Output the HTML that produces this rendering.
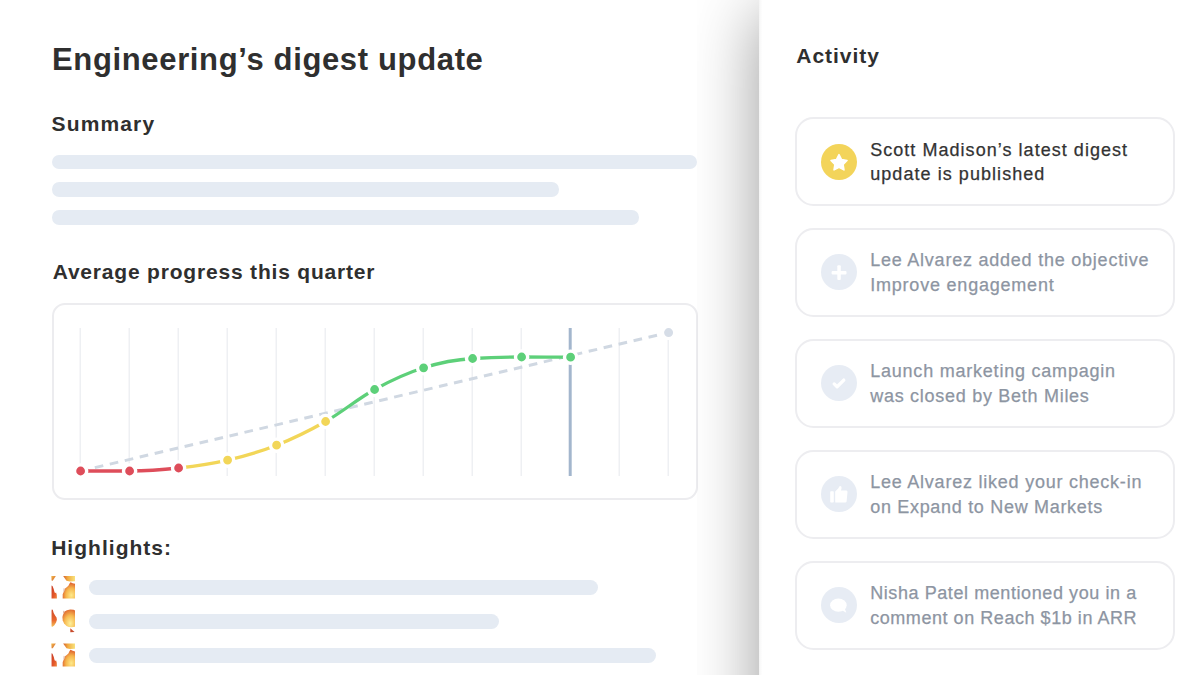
<!DOCTYPE html>
<html><head><meta charset="utf-8">
<style>
*{margin:0;padding:0;box-sizing:border-box}
html,body{width:1200px;height:675px;overflow:hidden;background:#fff}
body{position:relative;font-family:"Liberation Sans",sans-serif;color:#2f2f2f}
.a{position:absolute;white-space:nowrap;line-height:1}
.h1{font-size:31px;font-weight:bold;letter-spacing:0.5px}
.h2{font-size:21px;font-weight:bold;letter-spacing:0.75px}
.bar{position:absolute;height:14.5px;border-radius:7.25px;background:#e5ebf3}
.hbar{position:absolute;height:15px;border-radius:7.5px;background:#e5ebf3}
#shadow{position:absolute;left:697px;top:0;width:62px;height:675px;
 background:linear-gradient(to right,#fcfcfc 0%,#f4f4f4 25%,#e9e9e9 50%,#dcdcdc 75%,#cccccc 100%)}
#panel{position:absolute;left:759px;top:0;width:441px;height:675px;background:linear-gradient(to right,#f3f3f3 0,#fafafa 1.5px,#fff 3.5px)}
.card{position:absolute;left:35.7px;width:380.3px;height:89.4px;border:2px solid #ededf0;border-radius:18.5px;background:#fff}
.ic{position:absolute;left:24.5px;top:24.6px;width:36px;height:36px;border-radius:50%;background:#e7ecf4}
.ic svg{position:absolute;left:0;top:0}
.ct{position:absolute;left:73.5px;top:18.6px;font-size:18px;line-height:24.5px;letter-spacing:0.95px;color:#8d95a2;white-space:nowrap;-webkit-text-stroke:0.25px currentColor}
.card.first .ct{color:#333}
#chartcard{position:absolute;left:51.6px;top:302.9px;width:646px;height:197px;border:2px solid #ececef;border-radius:13px}
</style></head><body>

<div class="a h1" style="left:52px;top:43.9px;letter-spacing:0.65px">Engineering’s digest update</div>
<div class="a h2" style="left:51.5px;top:112.7px;letter-spacing:1.15px">Summary</div>
<div class="bar" style="left:52px;top:154.6px;width:645px"></div>
<div class="bar" style="left:52px;top:182.4px;width:507px"></div>
<div class="bar" style="left:52px;top:210.1px;width:587px"></div>

<div class="a h2" style="left:52.7px;top:261px;letter-spacing:0.81px">Average progress this quarter</div>
<div id="chartcard"></div>

<div class="a h2" style="left:51.2px;top:537.3px;letter-spacing:1.02px">Highlights:</div>
<div class="hbar" style="left:89px;top:580.3px;width:509px"></div>
<div class="hbar" style="left:89px;top:614.2px;width:410px"></div>
<div class="hbar" style="left:89px;top:648px;width:567px"></div>

<svg style="position:absolute;left:48px;top:572px" width="32" height="100" viewBox="0 0 675 2109">
<defs>
<linearGradient id="ft" x1="0" y1="0" x2="1" y2="0"><stop offset="0" stop-color="#d4602c"/><stop offset="0.4" stop-color="#f2ad42"/><stop offset="1" stop-color="#f8e27e"/></linearGradient>
<linearGradient id="ftl" x1="0" y1="0" x2="1" y2="1"><stop offset="0" stop-color="#f4bb4c"/><stop offset="1" stop-color="#cf5a2a"/></linearGradient>
<linearGradient id="fr" x1="0" y1="0" x2="1" y2="1"><stop offset="0" stop-color="#c63c26"/><stop offset="0.6" stop-color="#e4572b"/><stop offset="1" stop-color="#f08a3c"/></linearGradient>
<radialGradient id="fy" cx="0.7" cy="0.8" r="0.8"><stop offset="0" stop-color="#fde98a"/><stop offset="0.55" stop-color="#f6b54c"/><stop offset="1" stop-color="#dc5a2c"/></radialGradient>
<radialGradient id="fy2" cx="0.62" cy="0.78" r="0.8"><stop offset="0" stop-color="#fdf09a"/><stop offset="0.55" stop-color="#f7bb52"/><stop offset="1" stop-color="#e0692f"/></radialGradient>
<linearGradient id="fl2" x1="0" y1="0" x2="0" y2="1"><stop offset="0" stop-color="#cf4a28"/><stop offset="0.6" stop-color="#e8652d"/><stop offset="1" stop-color="#f4c25a"/></linearGradient>
<g id="fA">
<path d="M70 85L165 85L100 185L75 180Z" fill="url(#ftl)"/>
<path d="M320 85L570 85L570 195L460 200L390 185Z" fill="url(#ft)"/>
<path d="M75 285L95 295L120 360L140 430L155 445L170 430L185 480L188 560L75 560Z" fill="url(#fr)"/>
<path d="M310 560L310 470L325 430L345 400L360 350L395 320L430 290L455 240L475 215L520 235L570 250L570 560Z" fill="url(#fy)"/>
<path d="M330 340L352 346L345 420L325 414Z" fill="#c9876a" opacity="0.6"/>
</g>
</defs>
<use href="#fA"/>
<g transform="translate(0 717)">
<path d="M80 75L100 80L120 150L150 200L180 240L188 290L170 350L130 410L95 440L75 430L75 100Z" fill="url(#fl2)"/>
<path d="M335 150L360 110L400 90L470 75L540 78L570 95L570 440L500 450L440 445L390 420L340 370L310 300L305 230L315 190Z" fill="url(#fy2)"/>
<path d="M320 100L352 106L342 160L318 150Z" fill="#c9876a" opacity="0.6"/>
<path d="M470 470L560 550L470 555Z" fill="#c84a2a"/>
</g>
<g transform="translate(0 1426)"><use href="#fA" transform="translate(0 -4) scale(1 1.02)"/></g>
</svg>
<svg id="chart" style="position:absolute;left:0;top:0" width="760" height="675" viewBox="0 0 760 675">
<line x1="80.20" y1="328" x2="80.20" y2="476" stroke="#eaecf0" stroke-width="1.2"/>
<line x1="129.20" y1="328" x2="129.20" y2="476" stroke="#eaecf0" stroke-width="1.2"/>
<line x1="178.20" y1="328" x2="178.20" y2="476" stroke="#eaecf0" stroke-width="1.2"/>
<line x1="227.20" y1="328" x2="227.20" y2="476" stroke="#eaecf0" stroke-width="1.2"/>
<line x1="276.20" y1="328" x2="276.20" y2="476" stroke="#eaecf0" stroke-width="1.2"/>
<line x1="325.20" y1="328" x2="325.20" y2="476" stroke="#eaecf0" stroke-width="1.2"/>
<line x1="374.20" y1="328" x2="374.20" y2="476" stroke="#eaecf0" stroke-width="1.2"/>
<line x1="423.20" y1="328" x2="423.20" y2="476" stroke="#eaecf0" stroke-width="1.2"/>
<line x1="472.20" y1="328" x2="472.20" y2="476" stroke="#eaecf0" stroke-width="1.2"/>
<line x1="521.20" y1="328" x2="521.20" y2="476" stroke="#eaecf0" stroke-width="1.2"/>
<line x1="619.20" y1="328" x2="619.20" y2="476" stroke="#eaecf0" stroke-width="1.2"/>
<line x1="668.20" y1="328" x2="668.20" y2="476" stroke="#eaecf0" stroke-width="1.2"/>
<line x1="570.20" y1="328" x2="570.20" y2="476" stroke="#a3b6cd" stroke-width="3"/>
<line x1="80.60" y1="471.0" x2="668.20" y2="332.6" stroke="#d0d8e2" stroke-width="3" stroke-dasharray="8.7 6.675" stroke-dashoffset="0.77"/>
<path d="M80.60 471.00C96.93 471.00 113.27 471.00 129.60 471.00" fill="none" stroke="#de4d5a" stroke-width="3.3"/>
<path d="M129.60 471.00C145.93 471.00 162.27 469.82 178.60 468.00" fill="none" stroke="#de4d5a" stroke-width="3.3"/>
<path d="M178.60 468.00C194.93 466.18 211.27 463.90 227.60 460.10" fill="none" stroke="#f2d658" stroke-width="3.3"/>
<path d="M227.60 460.10C243.93 456.30 260.27 451.63 276.60 445.20" fill="none" stroke="#f2d658" stroke-width="3.3"/>
<path d="M276.60 445.20C292.93 438.77 309.27 430.78 325.60 421.50" fill="none" stroke="#f2d658" stroke-width="3.3"/>
<path d="M325.60 421.50C341.93 412.22 358.27 398.45 374.60 389.50" fill="none" stroke="#5dd079" stroke-width="3.3"/>
<path d="M374.60 389.50C390.93 380.55 407.27 372.97 423.60 367.80" fill="none" stroke="#5dd079" stroke-width="3.3"/>
<path d="M423.60 367.80C439.93 362.63 456.27 359.50 472.60 358.50" fill="none" stroke="#5dd079" stroke-width="3.3"/>
<path d="M472.60 358.50C488.93 357.50 505.27 357.00 521.60 357.00" fill="none" stroke="#5dd079" stroke-width="3.3"/>
<path d="M521.60 357.00C537.93 357.00 554.27 357.10 570.60 357.20" fill="none" stroke="#5dd079" stroke-width="3.3"/>
<circle cx="668.60" cy="332.6" r="6" fill="#d6dde7" stroke="#fff" stroke-width="3"/>
<circle cx="80.60" cy="471.0" r="6.1" fill="#de4d5a" stroke="#fff" stroke-width="3.4"/>
<circle cx="129.60" cy="471.0" r="6.1" fill="#de4d5a" stroke="#fff" stroke-width="3.4"/>
<circle cx="178.60" cy="468.0" r="6.1" fill="#de4d5a" stroke="#fff" stroke-width="3.4"/>
<circle cx="227.60" cy="460.1" r="6.1" fill="#f2d658" stroke="#fff" stroke-width="3.4"/>
<circle cx="276.60" cy="445.2" r="6.1" fill="#f2d658" stroke="#fff" stroke-width="3.4"/>
<circle cx="325.60" cy="421.5" r="6.1" fill="#f2d658" stroke="#fff" stroke-width="3.4"/>
<circle cx="374.60" cy="389.5" r="6.1" fill="#5dd079" stroke="#fff" stroke-width="3.4"/>
<circle cx="423.60" cy="367.8" r="6.1" fill="#5dd079" stroke="#fff" stroke-width="3.4"/>
<circle cx="472.60" cy="358.5" r="6.1" fill="#5dd079" stroke="#fff" stroke-width="3.4"/>
<circle cx="521.60" cy="357.0" r="6.1" fill="#5dd079" stroke="#fff" stroke-width="3.4"/>
<circle cx="570.60" cy="357.2" r="6.1" fill="#5dd079" stroke="#fff" stroke-width="3.4"/>
</svg>

<div id="shclip" style="position:absolute;left:697px;top:0;width:62px;height:675px;overflow:hidden"><div style="position:absolute;left:62px;top:13px;width:200px;height:1000px;background:#fff;box-shadow:0 0 68px rgba(0,0,0,0.4)"></div></div>
<div id="panel">
  <div class="a h2" style="left:37.3px;top:44.5px;letter-spacing:0.95px">Activity</div>

  <div class="card first" style="top:117px">
    <div class="ic" style="background:#f3d45a"><svg width="36" height="36" viewBox="0 0 36 36"><polygon points="18.00,10.70 20.53,15.62 25.99,16.50 22.09,20.43 22.94,25.90 18.00,23.40 13.06,25.90 13.91,20.43 10.01,16.50 15.47,15.62" fill="#fff" stroke="#fff" stroke-width="1.6" stroke-linejoin="round"/></svg></div>
    <div class="ct"><div style="letter-spacing:1.04px">Scott Madison’s latest digest</div><div style="letter-spacing:1.06px">update is published</div></div>
  </div>
  <div class="card " style="top:227.9px">
    <div class="ic"><svg width="36" height="36" viewBox="0 0 36 36"><rect x="10.6" y="16.9" width="14.9" height="3.5" rx="1" fill="#fff"/><rect x="16.3" y="11.2" width="3.5" height="14.9" rx="1" fill="#fff"/></svg></div>
    <div class="ct"><div style="letter-spacing:0.77px">Lee Alvarez added the objective</div><div style="letter-spacing:0.79px">Improve engagement</div></div>
  </div>
  <div class="card " style="top:338.8px">
    <div class="ic"><svg width="36" height="36" viewBox="0 0 36 36"><path d="M13.2 18.9L16.1 21.7L22.8 15.1" fill="none" stroke="#fff" stroke-width="3.3" stroke-linecap="round" stroke-linejoin="round"/></svg></div>
    <div class="ct"><div style="letter-spacing:0.78px">Launch marketing campagin</div><div style="letter-spacing:0.72px">was closed by Beth Miles</div></div>
  </div>
  <div class="card " style="top:449.7px">
    <div class="ic"><svg width="36" height="36" viewBox="0 0 36 36"><rect x="9.2" y="15.3" width="3.6" height="11.3" rx="0.8" fill="#fff"/><path d="M14.2 26.5L14.2 15.6L17.4 12.2Q18.2 10.2 19.2 10.1Q20.7 10.3 20.6 12.1L20 14.6L25.4 14.6Q26.6 14.8 26.5 16L25.6 25.6Q25.4 26.5 24.4 26.5Z" fill="#fff"/></svg></div>
    <div class="ct"><div style="letter-spacing:0.77px">Lee Alvarez liked your check-in</div><div style="letter-spacing:0.69px">on Expand to New Markets</div></div>
  </div>
  <div class="card " style="top:560.6px">
    <div class="ic"><svg width="36" height="36" viewBox="0 0 36 36"><ellipse cx="17.4" cy="18.2" rx="8.3" ry="6.6" fill="#fff"/><path d="M20.5 23L25.3 25.8L23.4 20.5Z" fill="#fff"/></svg></div>
    <div class="ct"><div style="letter-spacing:0.58px">Nisha Patel mentioned you in a</div><div style="letter-spacing:0.55px">comment on Reach $1b in ARR</div></div>
  </div>
</div>
</body></html>
